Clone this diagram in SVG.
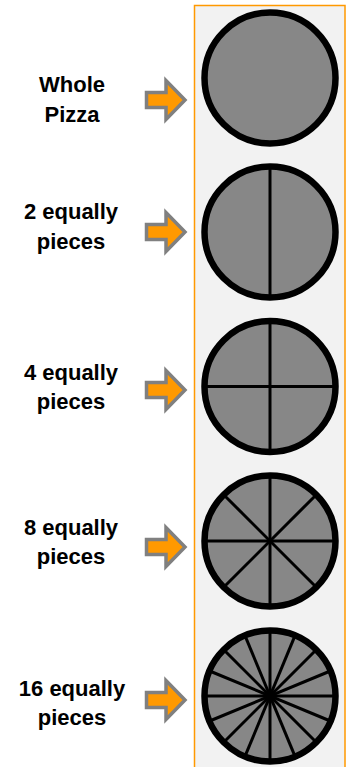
<svg xmlns="http://www.w3.org/2000/svg" xmlns:xlink="http://www.w3.org/1999/xlink" width="354" height="767" viewBox="0 0 354 767">
<style>
.lbl{font-family:"Liberation Sans",Arial,sans-serif;font-weight:bold;font-size:22px;fill:#000;text-anchor:middle}
.pz{fill:#878787;stroke:#000;stroke-width:6.5}
.cut{stroke:#000;stroke-width:3;fill:none}
.arr{fill:#ff9900;stroke:#808080;stroke-width:3.5;stroke-linejoin:miter}
</style>
<defs>
<path id="arrow" class="arr" d="M146.5,-7.5 H166 V-19.5 L185,0 L166,19.5 V7.5 H146.5 Z"/>
</defs>
<rect x="194.5" y="5.5" width="150.5" height="770" fill="#f2f2f2" stroke="#ff9900" stroke-width="1.5"/>
<g id="connectors">
<use xlink:href="#arrow" href="#arrow" transform="translate(0,100)"/>
<use xlink:href="#arrow" href="#arrow" transform="translate(0,232)"/>
<use xlink:href="#arrow" href="#arrow" transform="translate(0,390)"/>
<use xlink:href="#arrow" href="#arrow" transform="translate(0,547)"/>
<use xlink:href="#arrow" href="#arrow" transform="translate(0,700)"/>
</g>
<g id="label1"><text class="lbl" x="72" y="92">Whole</text><text class="lbl" x="72" y="122">Pizza</text></g>
<g id="label2"><text class="lbl" x="71" y="219">2 equally</text><text class="lbl" x="71" y="249">pieces</text></g>
<g id="label3"><text class="lbl" x="71" y="380">4 equally</text><text class="lbl" x="71" y="409">pieces</text></g>
<g id="label4"><text class="lbl" x="71" y="535">8 equally</text><text class="lbl" x="71" y="564">pieces</text></g>
<g id="label5"><text class="lbl" x="72" y="696">16 equally</text><text class="lbl" x="72" y="725">pieces</text></g>
<g id="pizza1"><circle class="pz" cx="270" cy="78" r="65.5"/></g>
<g id="pizza2"><circle class="pz" cx="270" cy="232" r="65.5"/><line class="cut" x1="270" y1="166" x2="270" y2="298"/></g>
<g id="pizza3"><circle class="pz" cx="270" cy="386.5" r="65.5"/><g transform="translate(270,386.5)"><line class="cut" x1="0" y1="-64" x2="0" y2="64"/><line class="cut" x1="-64" y1="0" x2="64" y2="0"/></g></g>
<g id="pizza4"><circle class="pz" cx="270" cy="541" r="65.5"/><g transform="translate(270,541)"><line class="cut" x1="0" y1="-64" x2="0" y2="64"/><line class="cut" x1="-64" y1="0" x2="64" y2="0"/><line class="cut" x1="-45.3" y1="-45.3" x2="45.3" y2="45.3"/><line class="cut" x1="-45.3" y1="45.3" x2="45.3" y2="-45.3"/></g></g>
<g id="pizza5"><circle class="pz" cx="270" cy="696" r="65.5"/><g transform="translate(270,696)">
<line class="cut" x1="0" y1="-64" x2="0" y2="64"/>
<line class="cut" x1="0" y1="-64" x2="0" y2="64" transform="rotate(22.5)"/>
<line class="cut" x1="0" y1="-64" x2="0" y2="64" transform="rotate(45)"/>
<line class="cut" x1="0" y1="-64" x2="0" y2="64" transform="rotate(67.5)"/>
<line class="cut" x1="0" y1="-64" x2="0" y2="64" transform="rotate(90)"/>
<line class="cut" x1="0" y1="-64" x2="0" y2="64" transform="rotate(112.5)"/>
<line class="cut" x1="0" y1="-64" x2="0" y2="64" transform="rotate(135)"/>
<line class="cut" x1="0" y1="-64" x2="0" y2="64" transform="rotate(157.5)"/>
</g></g>
</svg>
